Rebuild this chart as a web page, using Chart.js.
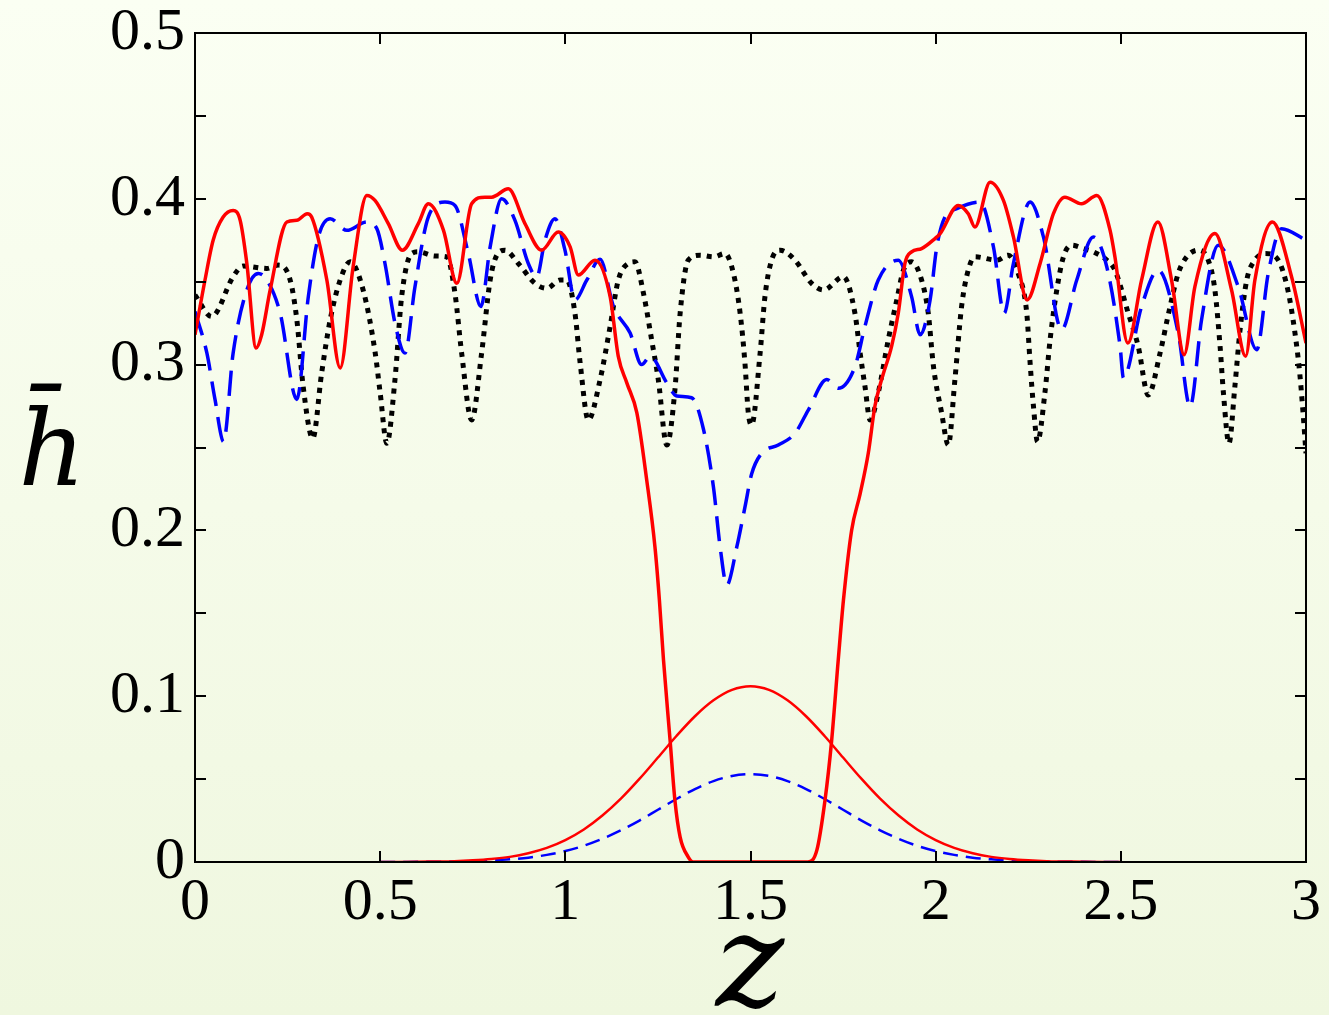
<!DOCTYPE html>
<html><head><meta charset="utf-8">
<script src="https://cdn.jsdelivr.net/npm/chart.js@4.4.0/dist/chart.umd.min.js"></script>
<style>
html,body{margin:0;padding:0;}
body{width:1329px;height:1015px;background:linear-gradient(#fbfff3,#eff7df);overflow:hidden;}
canvas{display:block;}
</style></head><body>
<canvas id="c" width="1329" height="1015"></canvas>
<script>
const xTitle = 'z';
const yTitle = 'h\u0304';
const xTickLabels = ['0','0.5','1','1.5','2','2.5','3'];
const yTickLabels = ['0','0.1','0.2','0.3','0.4','0.5'];

const blackZ = [0,0.045,0.103,0.130,0.194,0.225,0.257,0.275,0.292,0.318,0.342,0.365,0.392,0.419,0.454,0.486,0.500,0.518,0.540,0.558,0.585,0.603,0.648,0.680,0.702,0.720,0.747,0.774,0.797,0.815,0.837,0.873,0.918,0.950,0.986,1.004,1.026,1.040,1.062,1.094,1.121,1.143,1.170,1.188,1.211,1.233,1.251,1.274,1.296,1.310,1.332,1.364,1.400,1.431,1.454,1.472,1.485,1.494,1.503,1.526,1.539,1.557,1.580,1.620,1.665,1.697,1.751,1.782,1.796,1.809,1.823,1.845,1.872,1.895,1.913,1.935,1.962,1.980,1.994,2.016,2.034,2.052,2.070,2.088,2.106,2.165,2.196,2.223,2.246,2.255,2.264,2.275,2.295,2.309,2.327,2.345,2.367,2.399,2.426,2.462,2.484,2.520,2.547,2.574,2.606,2.629,2.655,2.678,2.709,2.736,2.754,2.768,2.777,2.792,2.808,2.822,2.840,2.862,2.890,2.925,2.951,2.969,2.983,2.992,3.0];
const blackH = [0.342,0.329,0.353,0.3595,0.358,0.360,0.351,0.327,0.287,0.2555,0.295,0.327,0.351,0.362,0.345,0.308,0.283,0.2525,0.291,0.341,0.367,0.368,0.3655,0.365,0.343,0.307,0.2666,0.307,0.351,0.366,0.369,0.361,0.349,0.346,0.351,0.351,0.331,0.301,0.2666,0.291,0.323,0.351,0.361,0.362,0.343,0.315,0.291,0.2515,0.285,0.331,0.363,0.366,0.365,0.367,0.355,0.331,0.301,0.271,0.2636,0.307,0.341,0.363,0.369,0.363,0.349,0.345,0.353,0.331,0.307,0.287,0.2666,0.283,0.315,0.339,0.357,0.362,0.351,0.331,0.299,0.271,0.2515,0.291,0.335,0.357,0.365,0.363,0.366,0.355,0.331,0.301,0.275,0.2535,0.283,0.315,0.345,0.365,0.372,0.370,0.368,0.363,0.357,0.331,0.311,0.2817,0.307,0.331,0.355,0.365,0.369,0.363,0.345,0.311,0.283,0.2525,0.287,0.321,0.351,0.363,0.367,0.363,0.345,0.321,0.295,0.271,0.2465];

const blueZ = [0,0.032,0.054,0.077,0.103,0.140,0.171,0.194,0.230,0.275,0.306,0.333,0.365,0.410,0.464,0.491,0.513,0.540,0.567,0.594,0.630,0.675,0.702,0.738,0.772,0.797,0.828,0.864,0.900,0.923,0.945,0.972,0.999,1.026,1.058,1.094,1.130,1.175,1.206,1.229,1.274,1.301,1.341,1.373,1.400,1.418,1.436,1.463,1.485,1.503,1.530,1.575,1.620,1.656,1.706,1.737,1.782,1.809,1.845,1.899,1.935,1.958,1.985,2.003,2.025,2.057,2.120,2.156,2.185,2.210,2.255,2.291,2.340,2.381,2.426,2.462,2.498,2.507,2.556,2.601,2.655,2.687,2.718,2.763,2.817,2.867,2.898,2.934,3.0];
const blueH = [0.332,0.307,0.279,0.2535,0.307,0.345,0.355,0.351,0.331,0.279,0.341,0.377,0.388,0.381,0.386,0.382,0.361,0.325,0.307,0.347,0.389,0.398,0.396,0.367,0.335,0.371,0.400,0.387,0.361,0.353,0.375,0.388,0.369,0.339,0.351,0.3635,0.335,0.319,0.300,0.305,0.289,0.281,0.280,0.261,0.226,0.190,0.167,0.190,0.214,0.234,0.2465,0.2515,0.2585,0.2726,0.291,0.2857,0.2987,0.323,0.351,0.363,0.341,0.318,0.339,0.371,0.389,0.394,0.398,0.371,0.331,0.361,0.398,0.377,0.321,0.351,0.377,0.359,0.311,0.292,0.335,0.357,0.319,0.2746,0.327,0.372,0.347,0.309,0.355,0.382,0.375];

const redZ = [0,0.027,0.049,0.076,0.103,0.122,0.140,0.165,0.180,0.203,0.248,0.275,0.303,0.315,0.356,0.392,0.427,0.464,0.486,0.522,0.560,0.603,0.630,0.671,0.707,0.747,0.783,0.801,0.846,0.891,0.936,0.981,1.013,1.035,1.080,1.121,1.143,1.166,1.193,1.220,1.242,1.254,1.265,1.283,1.296,1.310,1.332,1.345,1.5,1.655,1.679,1.701,1.719,1.737,1.751,1.773,1.796,1.818,1.836,1.854,1.881,1.899,1.917,1.935,1.962,1.998,2.012,2.061,2.088,2.106,2.147,2.183,2.210,2.247,2.282,2.318,2.349,2.394,2.435,2.471,2.484,2.519,2.556,2.600,2.637,2.671,2.700,2.754,2.799,2.837,2.862,2.909,2.961,3.0];
const redH = [0.318,0.351,0.375,0.389,0.393,0.387,0.361,0.310,0.318,0.345,0.386,0.387,0.391,0.389,0.351,0.298,0.359,0.402,0.399,0.385,0.369,0.385,0.397,0.381,0.349,0.397,0.401,0.401,0.406,0.385,0.369,0.380,0.371,0.354,0.363,0.341,0.305,0.289,0.271,0.230,0.190,0.158,0.122,0.073,0.037,0.015,0.003,0.0,0.0,0.0,0.007,0.037,0.073,0.122,0.158,0.200,0.222,0.2465,0.275,0.291,0.311,0.331,0.361,0.368,0.370,0.376,0.379,0.396,0.391,0.383,0.410,0.399,0.377,0.339,0.361,0.391,0.401,0.397,0.402,0.381,0.365,0.313,0.351,0.386,0.351,0.306,0.347,0.379,0.345,0.305,0.351,0.386,0.353,0.313];

const gaussZ = [0.5,0.55,0.6,0.65,0.7,0.75,0.8,0.85,0.9,0.95,1.0,1.05,1.1,1.15,1.2,1.25,1.3,1.35,1.4,1.45,1.5,1.55,1.6,1.65,1.7,1.75,1.8,1.85,1.9,1.95,2.0,2.05,2.1,2.15,2.2,2.25,2.3,2.35,2.4,2.45,2.5];
const redGaussH = [0,0,0.0001,0.0003,0.0005,0.0010,0.0018,0.0031,0.0053,0.0085,0.0132,0.0196,0.0280,0.0382,0.0501,0.0630,0.0760,0.0879,0.0975,0.1038,0.106,0.1038,0.0975,0.0879,0.0760,0.0630,0.0501,0.0382,0.0280,0.0196,0.0132,0.0085,0.0053,0.0031,0.0018,0.0010,0.0005,0.0003,0.0001,0,0];
const blueGaussH = [0,0,0.0001,0.0001,0.0003,0.0005,0.0009,0.0016,0.0026,0.0043,0.0066,0.0098,0.0140,0.0191,0.0250,0.0315,0.0380,0.0440,0.0488,0.0519,0.053,0.0519,0.0488,0.0440,0.0380,0.0315,0.0250,0.0191,0.0140,0.0098,0.0066,0.0043,0.0026,0.0016,0.0009,0.0005,0.0003,0.0001,0.0001,0,0];

function pts(zs, hs){ const n=Math.min(zs.length,hs.length); const o=[]; for(let i=0;i<n;i++) o.push({x:zs[i],y:hs[i]}); return o; }

const decor = {
  id:'decor',
  afterDraw(chart){
    const {ctx, chartArea:a, scales:{x,y}} = chart;
    ctx.save();
    ctx.strokeStyle='#000';
    ctx.lineWidth=2;
    ctx.strokeRect(a.left, a.top, a.right-a.left, a.bottom-a.top);
    const L=(x1,y1,x2,y2)=>{ctx.beginPath();ctx.moveTo(x1,y1);ctx.lineTo(x2,y2);ctx.stroke();};
    y.ticks.forEach(t=>{const py=Math.round(y.getPixelForValue(t.value)); L(a.left,py,a.left+11,py); L(a.right,py,a.right-11,py);});
    x.ticks.forEach(t=>{const px=Math.round(x.getPixelForValue(t.value)); L(px,a.bottom,px,a.bottom-11); L(px,a.top,px,a.top+11);});
    ctx.fillStyle='#000';
    ctx.textAlign='center';
    ctx.textBaseline='alphabetic';
    ctx.font='italic 104px "DejaVu Serif"';
    ctx.fillText(yTitle, 52, 485);
    ctx.font='italic 130px "DejaVu Serif"';
    ctx.fillText(xTitle, 750, 1006);
    ctx.restore();
  }
};

new Chart(document.getElementById('c'), {
  type:'line',
  data:{datasets:[
    {data:pts(redZ,redH), borderColor:'#ff0000', borderWidth:3.5, order:0},
    {data:pts(gaussZ,redGaussH), borderColor:'#ff0000', borderWidth:2.5, order:1},
    {data:pts(blueZ,blueH), borderColor:'#0000ff', borderWidth:3.5, borderDash:[25,11], order:2},
    {data:pts(gaussZ,blueGaussH), borderColor:'#0000ff', borderWidth:2.5, borderDash:[15,8], order:3},
    {data:pts(blackZ,blackH), borderColor:'#000000', borderWidth:5, borderDash:[5,6], borderCapStyle:'butt', order:4}
  ]},
  options:{
    responsive:false, animation:false, devicePixelRatio:1,
    layout:{padding:{top:33,right:23,left:0,bottom:0}},
    plugins:{legend:{display:false}, tooltip:{enabled:false}},
    elements:{point:{radius:0}, line:{cubicInterpolationMode:'monotone', fill:false}},
    scales:{
      x:{type:'linear', min:0, max:3,
        ticks:{stepSize:0.5, padding:5, color:'#000', maxRotation:0, autoSkip:false,
          font:{family:'"Liberation Serif"', size:60},
          callback:(v,i)=>xTickLabels[i]},
        grid:{display:false, drawTicks:false},
        border:{display:false},
        afterFit:(s)=>{s.height=153; s.paddingLeft=0; s.paddingRight=0;}
      },
      y:{type:'linear', min:0, max:0.5,
        ticks:{stepSize:0.05, padding:10, color:'#000', autoSkip:false,
          font:{family:'"Liberation Serif"', size:60},
          callback:(v,i)=> i%2===0 ? yTickLabels[i/2] : ''},
        grid:{display:false, drawTicks:false},
        border:{display:false},
        afterFit:(s)=>{s.width=195; s.paddingTop=0; s.paddingBottom=0;}
      }
    }
  },
  plugins:[decor]
});
</script>
</body></html>
